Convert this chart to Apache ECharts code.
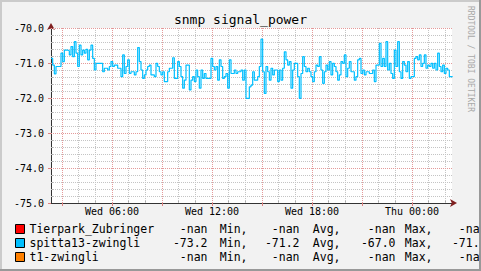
<!DOCTYPE html>
<html><head><meta charset="utf-8">
<style>html,body{margin:0;padding:0;background:#f2f2f2}#c{width:481px;height:271px}</style>
<script src="https://cdn.jsdelivr.net/npm/echarts@6/dist/echarts.min.js"></script>
</head><body><div id="c"></div>
<script>
const chartTitle = 'snmp signal_power';
const watermark = 'RRDTOOL / TOBI OETIKER';
const seriesNames = ['Tierpark_Zubringer', 'spitta13-zwingli', 't1-zwingli'];
const seriesColors = ['#ff0000', '#00bfff', '#ff8000'];
const statMin = ['-nan', '-73.2', '-nan'];
const statAvg = ['-nan', '-71.2', '-nan'];
const statMax = ['-nan', '-67.0', '-nan'];
const statLast = ['-nan', '-71.4', '-nan'];
// hours since Wed 00:00
const startHour = 2.34;
const endHour = 26.4;
const stepHours = 0.1;
const spittaValues = [
-70.87,-71.06,-71.31,-71.10,-71.10,-71.10,-70.72,-70.96,-70.63,-70.63,
-70.65,-70.77,-70.53,-70.82,-70.39,-70.72,-71.10,-70.49,-70.77,-70.63,
-70.72,-70.61,-70.91,-70.63,-70.49,-70.87,-71.20,-71.01,-71.01,-71.01,
-71.01,-71.25,-71.15,-71.15,-71.20,-71.10,-70.96,-71.10,-71.06,-71.06,
-71.15,-71.15,-71.39,-70.77,-71.30,-71.10,-70.91,-71.30,-71.25,-71.25,
-71.34,-71.25,-70.56,-70.96,-71.20,-71.44,-71.34,-71.20,-71.10,-71.06,
-71.34,-71.34,-71.39,-71.01,-71.10,-71.25,-71.34,-71.25,-71.53,-71.53,
-71.25,-71.15,-71.15,-70.85,-71.44,-71.44,-70.96,-71.10,-71.39,-71.72,
-71.49,-71.06,-71.06,-71.77,-71.49,-71.39,-71.53,-71.20,-71.39,-71.72,
-71.20,-71.44,-71.30,-71.44,-71.44,-71.44,-70.87,-71.10,-71.20,-71.10,
-71.49,-70.91,-71.10,-71.44,-71.39,-71.30,-71.72,-70.91,-71.30,-71.30,
-71.20,-71.30,-71.25,-71.25,
-71.20,-71.49,-71.20,-72.01,-72.01,-71.68,-71.63,-71.25,-71.49,-71.49,
-71.39,-71.10,-70.32,-71.25,-71.87,-71.10,-71.25,-71.49,-71.15,-71.34,
-71.20,-71.20,-71.53,-71.20,-71.49,-71.15,-70.68,-70.91,-71.06,-70.96,
-71.72,-71.20,-71.01,-71.01,-71.39,-72.01,-71.30,-70.82,-71.10,-71.25,
-71.15,-71.25,-71.39,-71.53,-71.25,-71.06,-71.10,-70.82,-71.20,-71.58,
-71.25,-71.06,-71.20,-70.96,-71.34,-71.01,-71.10,-71.25,-71.49,-71.34,
-70.96,-71.01,-70.77,-71.39,-71.15,-70.96,-71.25,-71.25,-71.49,-71.39,
-70.91,-70.87,-71.30,-71.20,-71.34,-71.25,-71.25,-71.30,-71.30,-71.20,
-71.53,-71.06,-71.06,-70.44,-71.10,-70.87,-71.10,-70.39,-71.20,-71.01,
-71.30,-71.44,-70.63,-71.10,-70.39,-71.25,-71.44,-70.96,-71.06,-71.25,
-70.96,-71.44,-71.39,-71.39,-70.87,-70.82,-70.91,-70.77,-71.10,-71.01,
-70.77,-71.15,-71.06,-71.10,-71.01,-71.15,-71.01,-71.20,-70.72,-71.10,
-71.25,-71.06,-71.30,-71.15,-71.20,-71.39,-71.39,-71.39
];
const yMin = -75, yMax = -70;
const yMajorLabels = [-75, -74, -73, -72, -71, -70];
const yMinorTicks = [-74.8,-74.6,-74.4,-74.2,-73.8,-73.6,-73.4,-73.2,-72.8,-72.6,-72.4,-72.2,-71.8,-71.6,-71.4,-71.2,-70.8,-70.6,-70.4,-70.2];
const xMajorHours = [3, 6, 9, 12, 15, 18, 21, 24];
const xMinorHours = [4, 5, 7, 8, 10, 11, 13, 14, 16, 17, 19, 20, 22, 23, 25, 26];
const xLabelHours = [6, 12, 18, 24];
const xLabelTexts = ['Wed 06:00', 'Wed 12:00', 'Wed 18:00', 'Thu 00:00'];

const FONT = 'DejaVu Sans Mono';
const chart = echarts.init(document.getElementById('c'), null, {renderer: 'svg'});
const spittaData = spittaValues.map((v, i) => [startHour + i * stepHours, v]);
const RED = '#e49a9a', GRAY = '#c4c4c4';
function tok(w, a) { return {width: w, align: a, fontFamily: FONT, fontSize: 11.5, color: '#000', lineHeight: 14}; }
const rich = {n: tok(136, 'left'), v1: tok(42, 'right'), l1: tok(40, 'right'), v2: tok(52, 'right'),
  l2: tok(41, 'right'), v3: tok(55, 'right'), l3: tok(37, 'right'), v4: tok(54, 'right')};
function gridSeries(name, z, color, xs, ys) {
  return {name: name, type: 'line', xAxisIndex: 1, yAxisIndex: 1, data: [], z: z, silent: true,
    markLine: {silent: true, symbol: ['none', 'none'], label: {show: false}, animation: false,
      lineStyle: {color: color, width: 1, type: [1, 1]},
      emphasis: {disabled: true},
      data: xs.map(h => ({xAxis: h})).concat(ys.map(v => ({yAxis: v})))}};
}
chart.setOption({
  animation: false,
  backgroundColor: '#f2f2f2',
  title: {text: chartTitle, left: 'center', top: 8,
    textStyle: {fontFamily: FONT, fontSize: 13, fontWeight: 'normal', color: '#000'}},
  grid: {left: 51, right: 29, top: 28, bottom: 68, show: true, backgroundColor: '#ffffff', borderWidth: 0},
  legend: {
    orient: 'vertical', left: 15, top: 222, padding: 0, itemWidth: 9, itemHeight: 9, itemGap: 0,
    icon: 'rect', selectedMode: false,
    itemStyle: {borderColor: '#000', borderWidth: 1},
    data: seriesNames,
    textStyle: {fontFamily: FONT, fontSize: 11.5, color: '#000', lineHeight: 14, rich: rich},
    formatter: function (name) {
      const i = seriesNames.indexOf(name);
      return '{n|' + name + '}{v1|' + statMin[i] + '}{l1|Min,}{v2|' + statAvg[i] + '}{l2|Avg,}{v3|' +
        statMax[i] + '}{l3|Max,}{v4|' + statLast[i] + '}';
    }
  },
  xAxis: [
    {type: 'value', min: startHour, max: endHour, position: 'bottom',
      axisLine: {show: true, lineStyle: {color: '#7f1f1f', width: 1}, symbol: ['none', 'arrow'], symbolSize: [6, 7], symbolOffset: [0, 5]},
      axisTick: {show: true, customValues: xMajorHours, length: 3, inside: false, lineStyle: {color: '#e08080'}},
      axisLabel: {show: true, customValues: xLabelHours, margin: 3, fontFamily: FONT, fontSize: 10, color: '#000',
        formatter: function (v) { const k = xLabelHours.indexOf(v); return k >= 0 ? xLabelTexts[k] : ''; }},
      splitLine: {show: false}},
    {type: 'value', min: startHour, max: endHour, position: 'bottom',
      axisLine: {show: true, lineStyle: {color: '#333', width: 1}},
      axisTick: {show: true, customValues: xMinorHours, length: 2, inside: true, lineStyle: {color: '#aaa'}},
      axisLabel: {show: false},
      splitLine: {show: false}}
  ],
  yAxis: [
    {type: 'value', min: yMin, max: yMax, position: 'left',
      axisLine: {show: true, lineStyle: {color: '#7f1f1f', width: 1}, symbol: ['none', 'arrow'], symbolSize: [6, 7], symbolOffset: [0, 5]},
      axisTick: {show: true, customValues: yMajorLabels, length: 3, inside: false, lineStyle: {color: '#e08080'}},
      axisLabel: {show: true, customValues: yMajorLabels, margin: 7, fontFamily: FONT, fontSize: 10, color: '#000',
        formatter: function (v) { return v.toFixed(1); }},
      splitLine: {show: false}},
    {type: 'value', min: yMin, max: yMax, position: 'left',
      axisLine: {show: true, lineStyle: {color: '#333', width: 1}},
      axisTick: {show: true, customValues: yMinorTicks, length: 2, inside: true, lineStyle: {color: '#aaa'}},
      axisLabel: {show: false},
      splitLine: {show: false}}
  ],
  series: [
    gridSeries('minorGrid', 1, GRAY, xMinorHours, yMinorTicks),
    gridSeries('majorGrid', 2, RED, xMajorHours, yMajorLabels.filter(v => v > yMin)),
    {name: seriesNames[0], type: 'line', xAxisIndex: 1, yAxisIndex: 1, data: [], color: seriesColors[0]},
    {name: seriesNames[1], type: 'line', xAxisIndex: 1, yAxisIndex: 1, data: spittaData, step: 'end',
      showSymbol: false, color: seriesColors[1], lineStyle: {width: 1.2, color: seriesColors[1]}, z: 5},
    {name: seriesNames[2], type: 'line', xAxisIndex: 1, yAxisIndex: 1, data: [], color: seriesColors[2]}
  ],
  graphic: [
    {type: 'text', x: 470, y: 59, rotation: -Math.PI / 2, z: 10,
      style: {text: watermark, fontFamily: FONT, fontSize: 8, fill: '#a8a8a8', align: 'center', verticalAlign: 'middle'}},
    {type: 'rect', z: 100, shape: {x: 0, y: 0, width: 481, height: 2}, style: {fill: '#cbcbcb'}},
    {type: 'rect', z: 100, shape: {x: 0, y: 0, width: 2, height: 271}, style: {fill: '#cbcbcb'}},
    {type: 'rect', z: 101, shape: {x: 0, y: 269, width: 481, height: 2}, style: {fill: '#999999'}},
    {type: 'rect', z: 101, shape: {x: 479, y: 0, width: 2, height: 271}, style: {fill: '#999999'}}
  ]
});
</script></body></html>
